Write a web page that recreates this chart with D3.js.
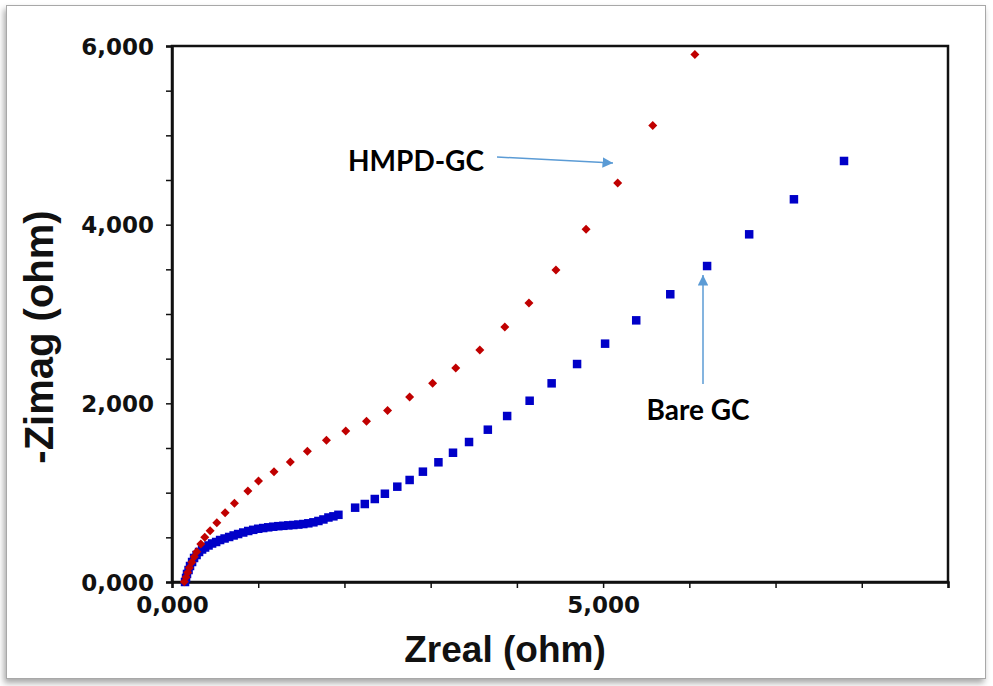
<!DOCTYPE html>
<html lang="en">
<head>
    <meta charset="UTF-8">
    <title>Nyquist plot</title>
    <style>
        body { margin: 0; background: #fff; }
        svg { display: block; }
    </style>
</head>
<body>
    <div id="chart"></div>
    <script src="https://d3js.org/d3.v7.min.js"></script>
    <script>
        // HMPD-GC (red diamonds): Zreal, -Zimag in ohm
        var hmpdX = [143, 163, 183, 201, 229, 259, 287, 334, 380, 442, 520, 616, 724, 880, 1003, 1183, 1372, 1570, 1791, 2015, 2256, 2500, 2756, 3023, 3291, 3570, 3860, 4140, 4453, 4802, 5169, 5576, 6064];
        var hmpdY = [3, 53, 105, 160, 221, 283, 339, 425, 500, 574, 664, 776, 881, 1019, 1131, 1235, 1343, 1463, 1586, 1690, 1799, 1920, 2071, 2224, 2395, 2597, 2854, 3123, 3492, 3948, 4466, 5110, 5905];

        // Bare GC (blue squares)
        var bareX = [151, 163, 174, 192, 209, 233, 256, 285, 314, 349, 384, 424, 465, 512, 558, 610, 663, 715, 767, 826, 884, 942, 1000, 1058, 1116, 1174, 1233, 1291, 1349, 1407, 1465, 1523, 1581, 1640, 1698, 1756, 1814, 1872, 1930, 2124, 2236, 2352, 2469, 2613, 2756, 2910, 3090, 3259, 3445, 3663, 3887, 4148, 4403, 4698, 5023, 5384, 5779, 6206, 6694, 7213, 7794];
        var bareY = [0, 45, 90, 134, 179, 224, 269, 302, 336, 364, 386, 409, 431, 448, 470, 487, 504, 521, 537, 554, 571, 584, 596, 604, 612, 619, 625, 629, 634, 638, 643, 649, 657, 668, 683, 700, 722, 735, 752, 832, 873, 929, 988, 1067, 1142, 1235, 1340, 1447, 1567, 1705, 1858, 2029, 2224, 2440, 2668, 2929, 3221, 3537, 3892, 4284, 4713];

        var xTicks = [0, 1000, 2000, 3000, 4000, 5000, 6000, 7000, 8000, 9000];
        var xTickLabels = {0: "0,000", 5000: "5,000"};
        var yTicks = [0, 500, 1000, 1500, 2000, 2500, 3000, 3500, 4000, 4500, 5000, 5500, 6000];
        var yTickLabels = {0: "0,000", 2000: "2,000", 4000: "4,000", 6000: "6,000"};

        var width = 993, height = 686;
        var margin = {left: 172, right: 45, top: 46, bottom: 104};

        var svg = d3.select("#chart").append("svg")
            .attr("width", width)
            .attr("height", height);

        // outer frame with a soft shadow
        var defs = svg.append("defs");
        var f = defs.append("filter").attr("id", "shadow")
            .attr("x", "-5%").attr("y", "-5%").attr("width", "110%").attr("height", "110%");
        f.append("feDropShadow").attr("dx", -2).attr("dy", 4).attr("stdDeviation", 3)
            .attr("flood-color", "#000").attr("flood-opacity", 0.35);

        svg.append("rect")
            .attr("x", 6.5).attr("y", 5.5)
            .attr("width", 979).attr("height", 673)
            .attr("fill", "#fff")
            .attr("stroke", "#a8a8a8")
            .attr("stroke-width", 1)
            .attr("filter", "url(#shadow)");

        var x = d3.scaleLinear().domain([0, 9000]).range([margin.left, width - margin.right]);
        var y = d3.scaleLinear().domain([0, 6000]).range([height - margin.bottom, margin.top]);

        // plot border
        svg.append("rect")
            .attr("x", x(0)).attr("y", y(6000))
            .attr("width", x(9000) - x(0))
            .attr("height", y(0) - y(6000))
            .attr("fill", "none")
            .attr("stroke", "#111")
            .attr("stroke-width", 2.5);

        var xAxis = svg.append("g")
            .attr("transform", "translate(0," + y(0) + ")")
            .call(d3.axisBottom(x).tickValues(xTicks).tickSize(6).tickPadding(4)
                .tickFormat(function(d) { return xTickLabels[d] || ""; }));

        var yAxis = svg.append("g")
            .attr("transform", "translate(" + x(0) + ",0)")
            .call(d3.axisLeft(y).tickValues(yTicks).tickSize(6).tickPadding(12)
                .tickFormat(function(d) { return yTickLabels[d] || ""; }));

        [xAxis, yAxis].forEach(function(g) {
            g.select(".domain").attr("stroke", "#111").attr("stroke-width", 2.5);
            g.selectAll(".tick line").attr("stroke", "#111").attr("stroke-width", 1.5);
            g.selectAll(".tick text")
                .attr("fill", "#111")
                .style("font-family", "DejaVu Sans")
                .style("font-weight", "bold")
                .style("font-size", "23px");
        });
        yAxis.selectAll(".tick text").attr("dy", "0.36em");
        xAxis.selectAll(".tick text").attr("dy", "0.9em");

        // axis titles
        svg.append("text")
            .attr("x", 505)
            .attr("y", 662)
            .attr("text-anchor", "middle")
            .style("font-family", "Liberation Sans")
            .style("font-weight", "bold")
            .style("font-size", "37px")
            .attr("fill", "#111")
            .text("Zreal (ohm)");

        svg.append("text")
            .attr("transform", "translate(53,337) rotate(-90)")
            .attr("text-anchor", "middle")
            .style("font-family", "Liberation Sans")
            .style("font-weight", "bold")
            .style("font-size", "40px")
            .attr("fill", "#111")
            .text("-Zimag (ohm)");

        // bare GC squares
        var sq = 8.5;
        svg.append("g").selectAll("rect")
            .data(d3.zip(bareX, bareY))
            .enter().append("rect")
            .attr("x", function(d) { return x(d[0]) - sq / 2; })
            .attr("y", function(d) { return y(d[1]) - sq / 2; })
            .attr("width", sq).attr("height", sq)
            .attr("fill", "#0000c8");

        // HMPD-GC diamonds
        var dm = 4.5;
        svg.append("g").selectAll("path")
            .data(d3.zip(hmpdX, hmpdY))
            .enter().append("path")
            .attr("d", function(d) {
                var cx = x(d[0]), cy = y(d[1]);
                return "M" + cx + "," + (cy - dm) + "L" + (cx + dm) + "," + cy +
                       "L" + cx + "," + (cy + dm) + "L" + (cx - dm) + "," + cy + "Z";
            })
            .attr("fill", "#c00000");

        // annotations
        defs.append("marker").attr("id", "arrow")
            .attr("viewBox", "0 0 10 10").attr("refX", 10).attr("refY", 5)
            .attr("markerWidth", 7).attr("markerHeight", 7)
            .attr("markerUnits", "strokeWidth")
            .attr("orient", "auto")
            .append("path").attr("d", "M0,0L10,5L0,10Z").attr("fill", "#5b9bd5");

        svg.append("line")
            .attr("x1", 497).attr("y1", 157).attr("x2", 613).attr("y2", 163)
            .attr("stroke", "#5b9bd5").attr("stroke-width", 1.5)
            .attr("marker-end", "url(#arrow)");

        svg.append("line")
            .attr("x1", 703).attr("y1", 384).attr("x2", 703).attr("y2", 275)
            .attr("stroke", "#5b9bd5").attr("stroke-width", 1.5)
            .attr("marker-end", "url(#arrow)");

        svg.append("text")
            .attr("x", 416).attr("y", 171)
            .attr("text-anchor", "middle")
            .style("font-family", "Lato")
            .style("font-weight", "bold")
            .style("font-size", "28px")
            .attr("fill", "#000")
            .text("HMPD-GC");

        svg.append("text")
            .attr("x", 698).attr("y", 420)
            .attr("text-anchor", "middle")
            .style("font-family", "Lato")
            .style("font-weight", "bold")
            .style("font-size", "28px")
            .attr("fill", "#000")
            .text("Bare GC");
    </script>
</body>
</html>
